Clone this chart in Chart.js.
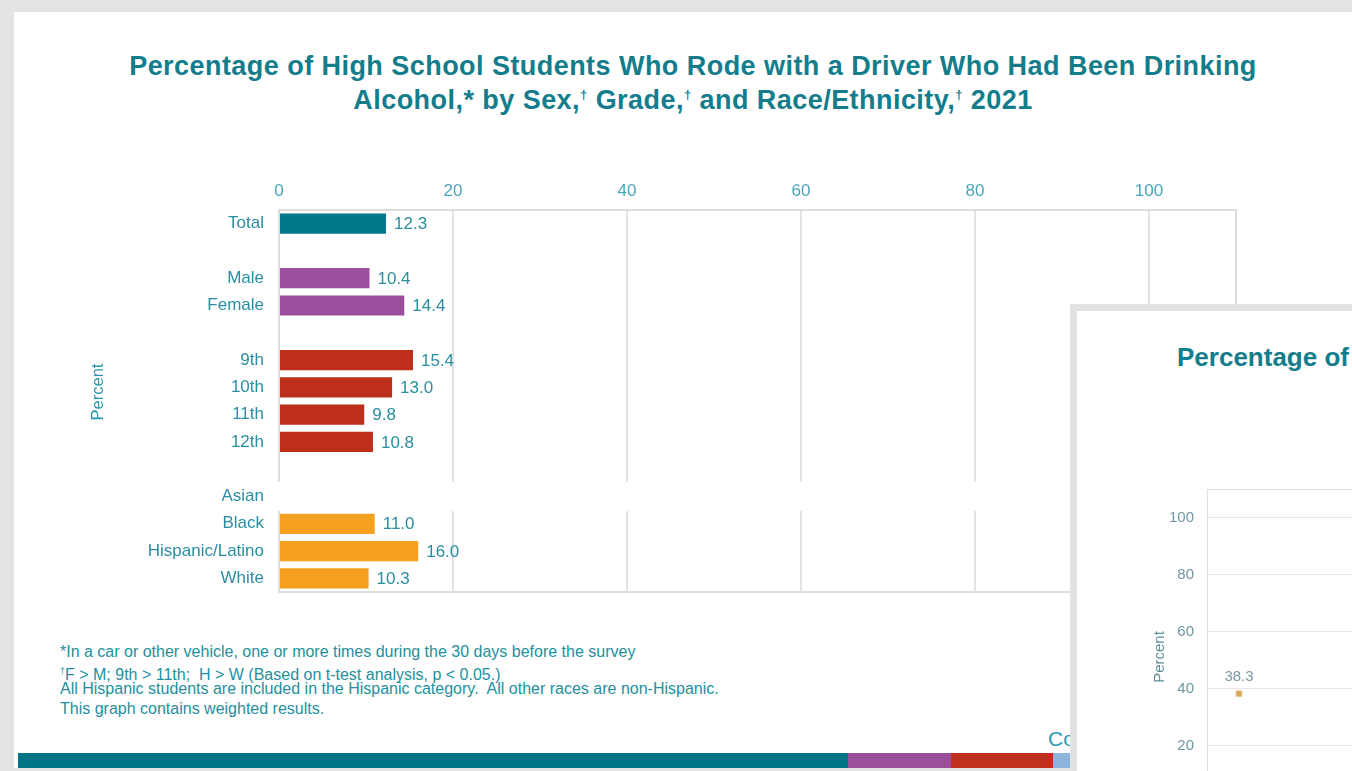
<!DOCTYPE html>
<html>
<head>
<meta charset="utf-8">
<script src="https://cdn.jsdelivr.net/npm/chart.js@4"></script>
<style>
  html, body { margin: 0; padding: 0; }
  body {
    width: 1352px; height: 771px; overflow: hidden; position: relative;
    background: #e4e4e4; font-family: "Liberation Sans", Arial, sans-serif;
  }
  #page {
    position: absolute; left: 14px; top: 12px; width: 1400px; height: 756px;
    background: #fff;
  }
  #title {
    position: absolute; left: 14px; top: 49px; width: 1358px;
    text-align: center; font-weight: bold; font-size: 27px; line-height: 34px;
    letter-spacing: 0.45px; color: #137d8c;
  }
  #title sup { font-size: 13px; vertical-align: 10px; line-height: 0; }
  #mainWrap { position: absolute; left: 14px; top: 12px; width: 1358px; height: 620px; }
  .note {
    position: absolute; left: 60px; font-size: 16px; color: #23909d;
    white-space: nowrap; line-height: 16px;
  }
  .note sup { font-size: 9px; vertical-align: 6px; line-height: 0; }
  .band { position: absolute; top: 753px; height: 15px; }
  #co {
    position: absolute; left: 1048px; top: 727px; font-size: 21px; color: #2b9bb0;
  }
  #panel2 {
    position: absolute; left: 1070px; top: 304px; width: 600px; height: 600px;
    border: 7px solid #e2e2e2; background: #fff; overflow: hidden;
  }
  #title2 {
    position: absolute; left: 100px; top: 31px; font-weight: bold; font-size: 26px;
    color: #137d8c; white-space: nowrap;
  }
  #wrap2 { position: absolute; left: 0; top: 89px; width: 1200px; height: 500px; }
</style>
</head>
<body>
<div id="page"></div>
<div id="title">Percentage of High School Students Who Rode with a Driver Who Had Been Drinking<br>
Alcohol,* by Sex,<sup>†</sup> Grade,<sup>†</sup> and Race/Ethnicity,<sup>†</sup> 2021</div>
<div id="mainWrap"><canvas id="mainChart"></canvas></div>

<div class="note" style="top:644px">*In a car or other vehicle, one or more times during the 30 days before the survey</div>
<div class="note" style="top:667px"><sup>†</sup>F &gt; M; 9th &gt; 11th;&nbsp; H &gt; W (Based on t-test analysis, p &lt; 0.05.)</div>
<div class="note" style="top:681px">All Hispanic students are included in the Hispanic category.&nbsp; All other races are non-Hispanic.</div>
<div class="note" style="top:701px">This graph contains weighted results.</div>

<div id="co">Co</div>
<div class="band" style="left:18px;width:830px;background:#007587"></div>
<div class="band" style="left:848px;width:103px;background:#9b4f9b"></div>
<div class="band" style="left:951px;width:102px;background:#bf311c"></div>
<div class="band" style="left:1053px;width:17px;background:#8db5dc"></div>

<div id="panel2">
  <div id="title2">Percentage of High School Students Who Rode with a Driver Who Had Been Drinking Alcohol</div>
  <div id="wrap2"><canvas id="trendChart"></canvas></div>
</div>

<script>
// bar chart rows (blank labels are spacer rows between groups)
const categories = ['Total', '', 'Male', 'Female', '', '9th', '10th', '11th', '12th', '', 'Asian', 'Black', 'Hispanic/Latino', 'White'];
const percents   = [12.3, null, 10.4, 14.4, null, 15.4, 13.0, 9.8, 10.8, null, null, 11.0, 16.0, 10.3];
const groups     = ['total', '', 'sex', 'sex', '', 'grade', 'grade', 'grade', 'grade', '', 'race', 'race', 'race', 'race'];
const xTicks     = [0, 20, 40, 60, 80, 100];

// trend panel
const years        = ['1991', '1993', '1995', '1997', '1999', '2001', '2003', '2005', '2007', '2009', '2011', '2013', '2015', '2017', '2019', '2021'];
const trendPercent = [38.3];
const yTicks2      = [0, 20, 40, 60, 80, 100];

const groupColors = { total: '#00788a', sex: '#9a4e9c', grade: '#bd2f1b', race: '#f5a01e' };
const barColors = groups.map(g => groupColors[g] || 'transparent');
const FONT = '"Liberation Sans", Arial, sans-serif';

const valueLabels = {
  id: 'valueLabels',
  afterDatasetsDraw(chart, args, opts) {
    const ctx = chart.ctx;
    ctx.save();
    ctx.font = opts.font;
    ctx.fillStyle = opts.color;
    ctx.textBaseline = 'middle';
    chart.data.datasets.forEach((ds, di) => {
      chart.getDatasetMeta(di).data.forEach((el, i) => {
        const v = ds.data[i];
        if (v === null || v === undefined) return;
        if (chart.config.type === 'bar') {
          ctx.textAlign = 'left';
          ctx.fillText(v.toFixed(1), el.x + opts.offset, el.y + 1);
        } else {
          ctx.textAlign = 'center';
          ctx.fillText(v.toFixed(1), el.x, el.y - opts.offset);
        }
      });
    });
    ctx.restore();
  }
};

// rotated "Percent" label beside the y axis, sitting a little off the middle
const sideTitle = {
  id: 'sideTitle',
  afterDraw(chart, args, opts) {
    const { ctx, chartArea: a, scales } = chart;
    ctx.save();
    ctx.font = opts.font;
    ctx.fillStyle = opts.color;
    ctx.textAlign = 'center';
    ctx.textBaseline = 'middle';
    ctx.translate(scales.y.left + opts.inset, (a.top + a.bottom) / 2 - opts.raise);
    ctx.rotate(-Math.PI / 2);
    ctx.fillText(opts.text, 0, 0);
    ctx.restore();
  }
};

// outer frame of the plot area, and the white break through the Asian row
const plotFrame = {
  id: 'plotFrame',
  beforeDatasetsDraw(chart) {
    const { ctx, chartArea: a, scales } = chart;
    ctx.save();
    ctx.strokeStyle = '#dcdcdc';
    ctx.lineWidth = 2;
    ctx.beginPath();
    ctx.moveTo(a.right, a.top);
    ctx.lineTo(a.right, a.bottom);
    ctx.lineTo(a.left, a.bottom);
    ctx.stroke();
    const y = scales.y;
    const idx = categories.indexOf('Asian');
    const rowH = y.getPixelForValue(1) - y.getPixelForValue(0);
    const cy = y.getPixelForValue(idx);
    ctx.fillStyle = '#fff';
    ctx.fillRect(a.left - 3, cy - rowH / 2 - 1, a.right - a.left + 6, rowH + 2);
    ctx.restore();
  }
};

new Chart(document.getElementById('mainChart'), {
  type: 'bar',
  data: {
    labels: categories,
    datasets: [{
      data: percents,
      backgroundColor: barColors,
      barPercentage: 0.74,
      categoryPercentage: 1
    }]
  },
  options: {
    indexAxis: 'y',
    responsive: true,
    maintainAspectRatio: false,
    animation: false,
    layout: { padding: { top: 158, left: 65, right: 136, bottom: 40 } },
    plugins: {
      legend: { display: false },
      tooltip: { enabled: false },
      valueLabels: { font: '17px ' + FONT, color: '#2a8e9e', offset: 8 },
      sideTitle: { text: 'Percent', font: '16.5px ' + FONT, color: '#2a96ab', inset: 19, raise: 9 }
    },
    scales: {
      x: {
        position: 'top',
        min: 0,
        max: 110,
        afterBuildTicks: s => { s.ticks = xTicks.map(v => ({ value: v })); },
        afterFit: s => { s.height = 40; },
        grid: { color: '#e2e2e2', lineWidth: 2, drawTicks: false },
        border: { color: '#dcdcdc', width: 2 },
        ticks: { padding: 8, color: '#4aa6bb', font: { family: FONT, size: 17 } }
      },
      y: {
        afterFit: s => { s.width = 200; },
        grid: { display: false, drawTicks: false },
        border: { color: '#dcdcdc', width: 2 },
        ticks: { padding: 15, color: '#2a8ea3', font: { family: FONT, size: 17 }, autoSkip: false }
      }
    }
  },
  plugins: [valueLabels, plotFrame, sideTitle]
});

new Chart(document.getElementById('trendChart'), {
  type: 'line',
  data: {
    labels: years,
    datasets: [{
      data: trendPercent,
      borderColor: '#d6a05a',
      backgroundColor: '#d9a55b',
      pointStyle: 'rect',
      pointRadius: 4,
      pointBorderColor: '#e8c594',
      pointBorderWidth: 1
    }]
  },
  options: {
    responsive: true,
    maintainAspectRatio: false,
    animation: false,
    layout: { padding: { top: 89, left: 70, right: 46, bottom: 57 } },
    plugins: {
      legend: { display: false },
      tooltip: { enabled: false },
      valueLabels: { font: '15px ' + FONT, color: '#7d98a2', offset: 17 },
      sideTitle: { text: 'Percent', font: '15px ' + FONT, color: '#5e8d9b', inset: 13, raise: -11 }
    },
    scales: {
      x: {
        offset: true,
        afterFit: s => { s.height = 40; },
        grid: { display: false },
        border: { display: false },
        ticks: { color: '#6f97a3', font: { family: FONT, size: 12 } }
      },
      y: {
        min: 0,
        max: 110,
        afterBuildTicks: s => { s.ticks = yTicks2.map(v => ({ value: v })); },
        ticks: { padding: 13, color: '#6f97a3', font: { family: FONT, size: 15 } },
        afterFit: s => { s.width = 60; },
        grid: { color: '#e6e6e6', drawTicks: false },
        border: { color: '#e0e0e0' }
      }
    }
  },
  plugins: [valueLabels, sideTitle, {
    id: 'topEdge',
    beforeDatasetsDraw(chart) {
      const { ctx, chartArea: a } = chart;
      ctx.save();
      ctx.strokeStyle = '#e0e0e0';
      ctx.beginPath();
      ctx.moveTo(a.left, a.top + 0.5);
      ctx.lineTo(a.right, a.top + 0.5);
      ctx.stroke();
      ctx.restore();
    }
  }]
});
</script>
</body>
</html>
